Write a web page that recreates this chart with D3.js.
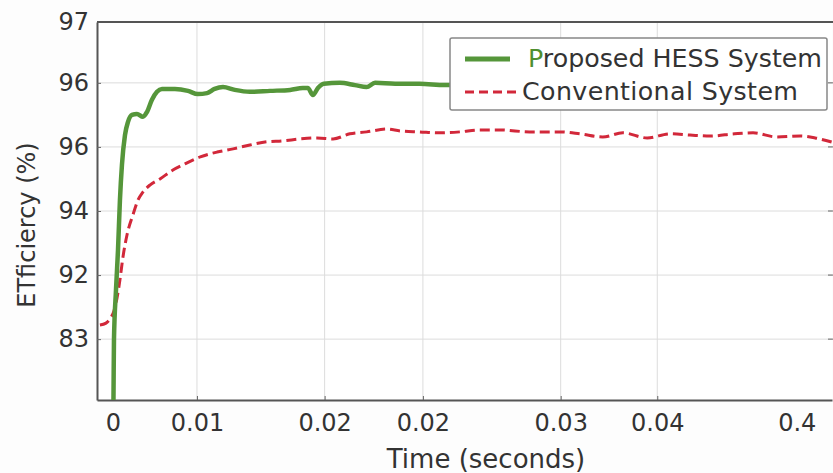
<!DOCTYPE html>
<html>
<head>
<meta charset="utf-8">
<script src="https://cdn.jsdelivr.net/npm/d3@7"></script>
<style>
  body { margin: 0; background: #fdfdfd; }
  svg { display: block; }
  text { font-family: "DejaVu Sans", sans-serif; fill: #333; }
</style>
</head>
<body>
<div id="chart"></div>
<script>
// tick labels (as printed on the figure) and where they sit
const xTickVals = [0, 0.01, 0.0252, 0.0369, 0.0533, 0.0648, 0.0814];
const xTickLabels = ["0", "0.01", "0.02", "0.02", "0.03", "0.04", "0.4"];
const yTickVals = [88, 90, 92, 94, 96, 97.9];
const yTickLabels = ["83", "92", "94", "96", "96", "97"];

// Proposed HESS System
const timeProposed = [0, 0.00006, 0.00012, 0.00036, 0.0006, 0.00083, 0.00107, 0.00143, 0.00179, 0.00226,
  0.00286, 0.00357, 0.00405, 0.00464, 0.00524, 0.00583, 0.00738, 0.00893, 0.0101, 0.0112,
  0.0121, 0.0131, 0.0145, 0.0163, 0.0187, 0.0211, 0.0226, 0.0232, 0.0238, 0.0244,
  0.0251, 0.0270, 0.0288, 0.0302, 0.0312, 0.0336, 0.0365, 0.0395, 0.0425];
const effProposed = [85.16, 86.1, 87.97, 89.53, 90.78, 92.34, 93.44, 94.37, 94.78, 95.0,
  95.03, 94.94, 95.09, 95.47, 95.72, 95.81, 95.81, 95.75, 95.65, 95.68,
  95.81, 95.87, 95.78, 95.72, 95.75, 95.78, 95.84, 95.84, 95.62, 95.84,
  95.97, 96.0, 95.93, 95.87, 96.0, 95.97, 95.97, 95.93, 95.97];

// Conventional System
const timeConventional = [-0.00155, -0.00083, -0.00036, 0.00012, 0.00048, 0.00083, 0.00119, 0.00167, 0.00238, 0.00298,
  0.00357, 0.0044, 0.0056, 0.00714, 0.00857, 0.0104, 0.0124, 0.0143, 0.0163, 0.0183,
  0.0202, 0.0223, 0.0243, 0.0262, 0.0282, 0.0302, 0.0326, 0.0342, 0.0365, 0.0389,
  0.0413, 0.0437, 0.0461, 0.0496, 0.0532, 0.0556, 0.0583, 0.0607, 0.0636, 0.0663,
  0.0687, 0.0711, 0.0740, 0.0762, 0.0790, 0.0818, 0.0836, 0.0856];
const effConventional = [88.44, 88.50, 88.63, 88.88, 89.28, 89.85, 90.56, 91.25, 91.88, 92.34,
  92.59, 92.81, 93.0, 93.28, 93.47, 93.69, 93.84, 93.94, 94.06, 94.16,
  94.19, 94.25, 94.28, 94.25, 94.41, 94.47, 94.56, 94.50, 94.47, 94.44,
  94.47, 94.53, 94.53, 94.47, 94.47, 94.41, 94.31, 94.44, 94.28, 94.41,
  94.37, 94.34, 94.41, 94.44, 94.31, 94.34, 94.28, 94.15];

const width = 833, height = 473;
const margin = {top: 22, right: 1, bottom: 73, left: 97};

const svg = d3.select("#chart").append("svg")
  .attr("width", width)
  .attr("height", height);

const x = d3.scaleLinear()
  .domain([-0.0019, 0.0856])
  .range([margin.left, width - margin.right]);

const y = d3.scaleLinear()
  .domain([86.1, 97.9])
  .range([height - margin.bottom, margin.top]);

// plot background
svg.append("rect")
  .attr("x", margin.left).attr("y", margin.top)
  .attr("width", width - margin.right - margin.left)
  .attr("height", height - margin.bottom - margin.top)
  .attr("fill", "#fff");

// grid
svg.append("g")
  .selectAll("line")
  .data(xTickVals.slice(1, 6))
  .join("line")
  .attr("x1", d => x(d)).attr("x2", d => x(d))
  .attr("y1", margin.top).attr("y2", height - margin.bottom)
  .attr("stroke", "#dcdcdc").attr("stroke-width", 1);

svg.append("g")
  .selectAll("line")
  .data(yTickVals.slice(0, 5))
  .join("line")
  .attr("x1", margin.left).attr("x2", width - margin.right)
  .attr("y1", d => y(d)).attr("y2", d => y(d))
  .attr("stroke", "#dcdcdc").attr("stroke-width", 1);

// axes
const xAxis = svg.append("g")
  .attr("transform", `translate(0,${height - margin.bottom})`)
  .call(d3.axisBottom(x)
    .tickValues(xTickVals)
    .tickFormat((d, i) => xTickLabels[i])
    .tickSizeInner(-4).tickSizeOuter(0).tickPadding(14));

const yAxis = svg.append("g")
  .attr("transform", `translate(${margin.left},0)`)
  .call(d3.axisLeft(y)
    .tickValues(yTickVals)
    .tickFormat((d, i) => yTickLabels[i])
    .tickSizeInner(-4).tickSizeOuter(0).tickPadding(8));

[xAxis, yAxis].forEach(a => {
  a.select(".domain").attr("stroke", "#555").attr("stroke-width", 2);
  a.selectAll(".tick line").attr("stroke", "#666");
  a.selectAll(".tick text")
    .style("font-family", "DejaVu Sans, sans-serif")
    .style("font-size", "24px")
    .attr("fill", "#333");
});
xAxis.selectAll(".tick").filter((d, i) => i === 0 || i === 6).select("line").remove();

// top border
svg.append("line")
  .attr("x1", margin.left).attr("x2", width)
  .attr("y1", margin.top).attr("y2", margin.top)
  .attr("stroke", "#555").attr("stroke-width", 2);

// right-side ticks
svg.append("g")
  .selectAll("line")
  .data(yTickVals.slice(0, 5))
  .join("line")
  .attr("x1", width - 5).attr("x2", width)
  .attr("y1", d => y(d)).attr("y2", d => y(d))
  .attr("stroke", "#666");

// titles
svg.append("text")
  .attr("x", 486).attr("y", 468)
  .attr("text-anchor", "middle")
  .style("font-size", "26px")
  .text("Time (seconds)");

svg.append("text")
  .attr("transform", "translate(35,225) rotate(-90)")
  .attr("text-anchor", "middle")
  .style("font-size", "24px")
  .text("ETficiercy (%)");

// lines
svg.append("clipPath").attr("id", "clip")
  .append("rect")
  .attr("x", margin.left).attr("y", margin.top)
  .attr("width", width - margin.left)
  .attr("height", height - margin.bottom - margin.top);

const line = d3.line()
  .x(d => x(d[0]))
  .y(d => y(d[1]))
  .curve(d3.curveMonotoneX);

const proposed = d3.zip(timeProposed, effProposed);
const conventional = d3.zip(timeConventional, effConventional);

const lines = svg.append("g").attr("clip-path", "url(#clip)");

lines.append("path")
  .datum(conventional)
  .attr("d", line)
  .attr("fill", "none")
  .attr("stroke", "#d2283a")
  .attr("stroke-width", 3)
  .attr("stroke-dasharray", "10,5");

lines.append("path")
  .datum(proposed)
  .attr("d", line)
  .attr("fill", "none")
  .attr("stroke", "#55963a")
  .attr("stroke-width", 4.5)
  .attr("stroke-linejoin", "round");

// legend
const legend = svg.append("g");
legend.append("rect")
  .attr("x", 450).attr("y", 38)
  .attr("width", 377).attr("height", 72)
  .attr("rx", 2)
  .attr("fill", "#fff")
  .attr("stroke", "#888").attr("stroke-width", 1.5);

legend.append("line")
  .attr("x1", 465).attr("x2", 510).attr("y1", 59).attr("y2", 59)
  .attr("stroke", "#55963a").attr("stroke-width", 5);
legend.append("line")
  .attr("x1", 465).attr("x2", 519).attr("y1", 92).attr("y2", 92)
  .attr("stroke", "#d2283a").attr("stroke-width", 3)
  .attr("stroke-dasharray", "9,5");

const t1 = legend.append("text")
  .attr("x", 528).attr("y", 67)
  .style("font-size", "25.3px");
t1.append("tspan").attr("fill", "#4f8f30").text("P");
t1.append("tspan").text("roposed HESS System");

legend.append("text")
  .attr("x", 522).attr("y", 100)
  .style("font-size", "25.3px")
  .attr("textLength", 276)
  .text("Conventional System");
</script>
</body>
</html>
